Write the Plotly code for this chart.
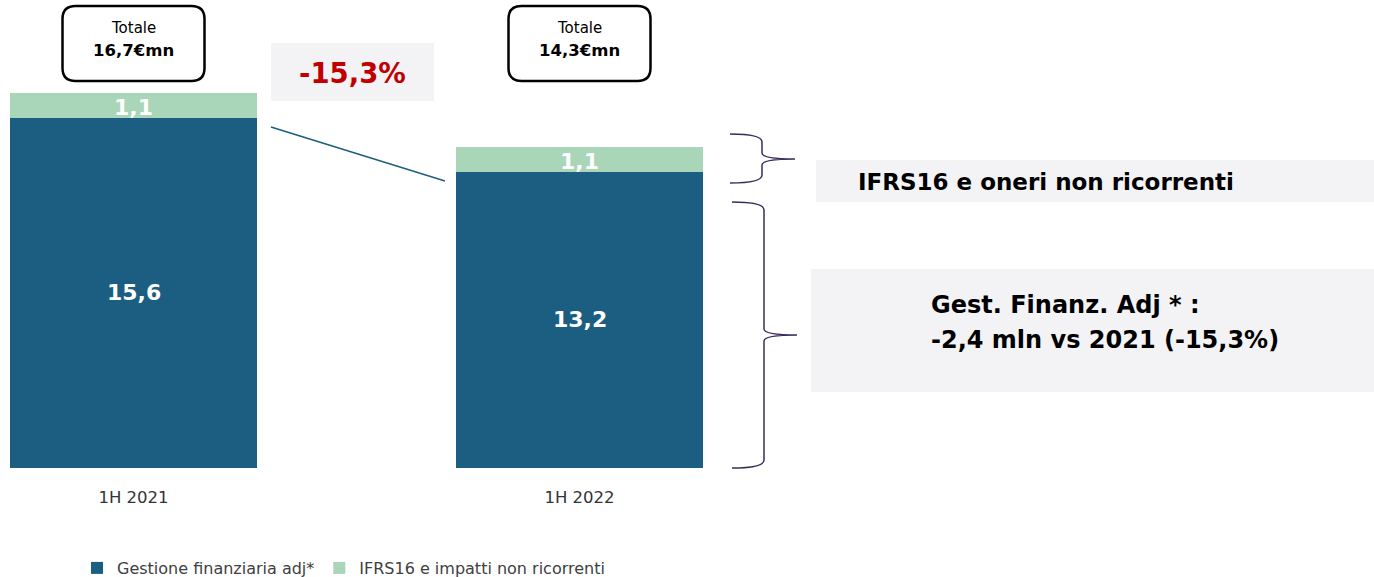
import plotly.graph_objects as go

categories = ["1H 2021", "1H 2022"]
gestione = [15.6, 13.2]
ifrs = [1.1, 1.1]
totals = [16.7, 14.3]
variation_pct = -15.3
series_names = ["Gestione finanziaria adj*", "IFRS16 e impatti non ricorrenti"]
box1_text = "IFRS16 e oneri non ricorrenti"
box2_lines = ["Gest. Finanz. Adj * :", "-2,4 mln vs 2021 (-15,3%)"]

W, H = 1374, 577
PLOT_B = 468          # pixel row of y=0
PX_PER_UNIT = 22.45
C0, STEP = 133.5, 446.0

DARK = "#1B5E82"
GREEN = "#A9D5B9"
GRAY = "#F3F3F5"
BRACE = "#3B2B5B"
FONT = "DejaVu Sans"


def fmt(v):
    return f"{v:.1f}".replace(".", ",")


def PX(px):
    return px / W


def PY(py):
    return (PLOT_B - py) / PLOT_B


fig = go.Figure()
fig.add_trace(go.Bar(x=categories, y=gestione, name=series_names[0],
                     marker=dict(color=DARK, line=dict(width=0))))
fig.add_trace(go.Bar(x=categories, y=ifrs, name=series_names[1],
                     marker=dict(color=GREEN, line=dict(width=0))))

ann = []
# value labels inside segments
for i, c in enumerate(categories):
    ann.append(dict(x=c, y=gestione[i] / 2, xref="x", yref="y", text=f"<b>{fmt(gestione[i])}</b>",
                    xanchor="center", yanchor="middle",
                    showarrow=False, font=dict(family=FONT, size=22, color="white")))
    ann.append(dict(x=c, y=gestione[i] + ifrs[i] / 2, xref="x", yref="y", text=f"<b>{fmt(ifrs[i])}</b>",
                    xanchor="center", yanchor="middle",
                    showarrow=False, font=dict(family=FONT, size=22, color="white"), yshift=-2))

shapes = []


def rrect(x0, y0, x1, y1, r):
    p = (f"M {PX(x0 + r)} {PY(y0)} L {PX(x1 - r)} {PY(y0)} Q {PX(x1)} {PY(y0)} {PX(x1)} {PY(y0 + r)} "
         f"L {PX(x1)} {PY(y1 - r)} Q {PX(x1)} {PY(y1)} {PX(x1 - r)} {PY(y1)} "
         f"L {PX(x0 + r)} {PY(y1)} Q {PX(x0)} {PY(y1)} {PX(x0)} {PY(y1 - r)} "
         f"L {PX(x0)} {PY(y0 + r)} Q {PX(x0)} {PY(y0)} {PX(x0 + r)} {PY(y0)} Z")
    return dict(type="path", xref="paper", yref="paper", path=p,
                line=dict(color="black", width=2.5), fillcolor="white", layer="above")


def text_ann(px, py, text, size, color="black", xanchor="center"):
    return dict(x=PX(px), y=PY(py), xref="paper", yref="paper", text=text, showarrow=False,
                xanchor=xanchor, yanchor="middle", font=dict(family=FONT, size=size, color=color))


# Totale boxes
for i, c in enumerate(categories):
    cx = C0 + STEP * i
    shapes.append(rrect(cx - 71, 6, cx + 71, 81, 13))
    ann.append(text_ann(cx, 28, "Totale", 15))
    ann.append(text_ann(cx, 51, f"<b>{fmt(totals[i])}€mn</b>", 16.5))

# variation box
shapes.append(dict(type="rect", xref="paper", yref="paper", x0=PX(271), x1=PX(434), y0=PY(101), y1=PY(43),
                   fillcolor=GRAY, line=dict(width=0), layer="below"))
ann.append(text_ann(352, 73, f"<b>{fmt(variation_pct)}%</b>", 27.5, color="#C00000"))
# connecting line
shapes.append(dict(type="line", xref="paper", yref="paper", x0=PX(271), y0=PY(127), x1=PX(445), y1=PY(181),
                   line=dict(color=DARK, width=1.5)))


def brace(xl, xs, xt, y0, ym, y1):
    p = (f"M {PX(xl)} {PY(y0)} Q {PX(xs)} {PY(y0)} {PX(xs)} {PY(y0 + 8)} "
         f"L {PX(xs)} {PY(ym - 6)} Q {PX(xs)} {PY(ym)} {PX(xt)} {PY(ym)} "
         f"Q {PX(xs)} {PY(ym)} {PX(xs)} {PY(ym + 6)} "
         f"L {PX(xs)} {PY(y1 - 8)} Q {PX(xs)} {PY(y1)} {PX(xl)} {PY(y1)}")
    return dict(type="path", xref="paper", yref="paper", path=p, line=dict(color=BRACE, width=1.5))


shapes.append(brace(730, 762, 795, 134, 159, 183))
shapes.append(brace(732, 764, 797, 202, 335, 468))

# right gray boxes
shapes.append(dict(type="rect", xref="paper", yref="paper", x0=PX(816), x1=PX(1374), y0=PY(202), y1=PY(160),
                   fillcolor=GRAY, line=dict(width=0), layer="below"))
ann.append(text_ann(856, 182, f"<b>{box1_text}</b>", 23, xanchor="left"))
shapes.append(dict(type="rect", xref="paper", yref="paper", x0=PX(811), x1=PX(1374), y0=PY(392), y1=PY(269),
                   fillcolor=GRAY, line=dict(width=0), layer="below"))
for k, yy in enumerate([305, 340]):
    ann.append(text_ann(929, yy, f"<b>{box2_lines[k]}</b>", 24, xanchor="left"))

fig.update_layout(
    width=W, height=H,
    margin=dict(l=0, r=0, t=0, b=H - PLOT_B, pad=0, autoexpand=False),
    paper_bgcolor="white", plot_bgcolor="white",
    barmode="stack", bargap=1 - 247 / 446,
    showlegend=True,
    legend=dict(orientation="h", x=PX(77), y=PY(568), yanchor="middle", xanchor="left",
                font=dict(family=FONT, size=16, color="#404040"),
                itemwidth=30, traceorder="normal"),
    xaxis=dict(type="category", range=[(0 - C0) / STEP, (W - C0) / STEP], showgrid=False, zeroline=False,
               showline=False, ticks="outside", ticklen=14, tickcolor="rgba(0,0,0,0)",
               tickfont=dict(family=FONT, size=16.5, color="#333333"), fixedrange=True),
    yaxis=dict(range=[0, PLOT_B / PX_PER_UNIT], visible=False, fixedrange=True),
    shapes=shapes, annotations=ann,
    font=dict(family=FONT),
)

fig.write_html("out.html", config={"displayModeBar": False},
               post_script="document.body.style.margin='0';document.body.style.overflow='hidden';")
